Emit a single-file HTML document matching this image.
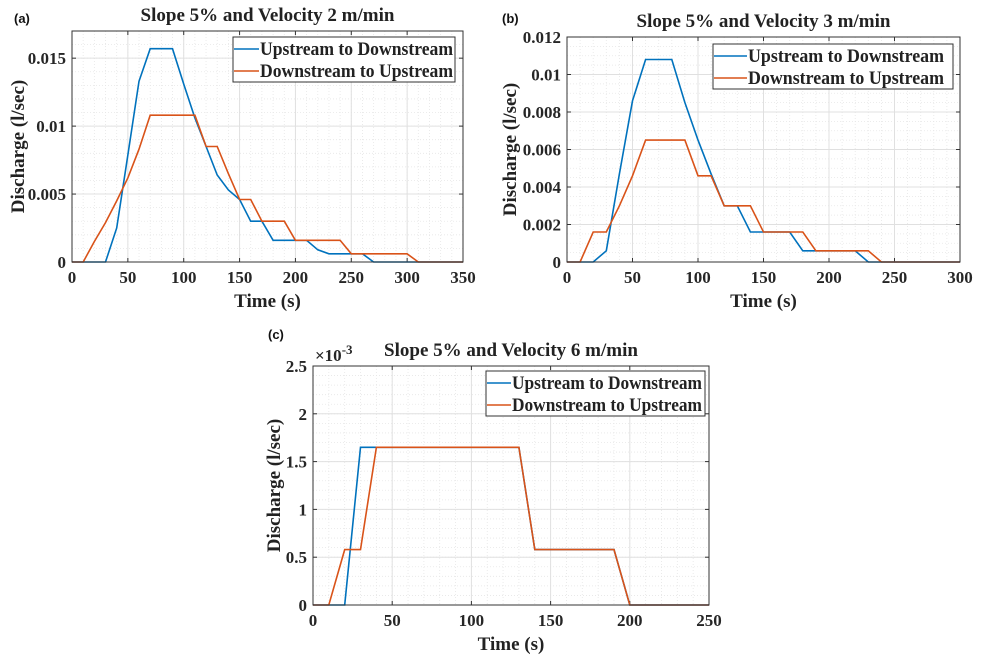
<!DOCTYPE html>
<html><head><meta charset="utf-8"><style>
html,body{margin:0;padding:0;background:#fff;}
svg{display:block;font-family:"Liberation Serif",serif;}
.t{font-weight:bold;font-size:19px;fill:#222;}
.lt{font-weight:bold;font-size:19px;fill:#222;}
.tk{font-weight:bold;font-size:17px;fill:#262626;}
.pl{font-family:"Liberation Sans",sans-serif;font-weight:bold;font-size:13px;fill:#111;}
</style></head><body>
<svg id="fig" width="988" height="664" viewBox="0 0 988 664" xmlns="http://www.w3.org/2000/svg"></svg>
<script>
// Panel (a): Slope 5%, velocity 2 m/min
const aTime = [0,10,20,30,40,50,60,70,80,90,100,110,120,130,140,150,160,170,180,190,200,210,220,230,240,250,260,270,280,290,300,310,320,330,340,350];
const aUp = [0,0,0,0,0.0025,0.0079,0.0133,0.0157,0.0157,0.0157,0.0131,0.0106,0.0085,0.0064,0.0053,0.0046,0.003,0.003,0.0016,0.0016,0.0016,0.0016,0.0009,0.0006,0.0006,0.0006,0.0006,0,0,0,0,0,0,0,0,0];
const aDown = [0,0,0.0015,0.0029,0.0045,0.0062,0.0083,0.0108,0.0108,0.0108,0.0108,0.0108,0.0085,0.0085,0.0065,0.0046,0.0046,0.003,0.003,0.003,0.0016,0.0016,0.0016,0.0016,0.0016,0.0006,0.0006,0.0006,0.0006,0.0006,0.0006,0,0,0,0,0];
const aXTicks = [0,50,100,150,200,250,300,350];
const aYTicks = [0,0.005,0.01,0.015];
const aYLabels = ["0","0.005","0.01","0.015"];
// Panel (b): velocity 3 m/min
const bTime = [0,10,20,30,40,50,60,70,80,90,100,110,120,130,140,150,160,170,180,190,200,210,220,230,240,250,260,270,280,290,300];
const bUp = [0,0,0,0.0006,0.0047,0.0086,0.0108,0.0108,0.0108,0.0085,0.0065,0.0047,0.003,0.003,0.0016,0.0016,0.0016,0.0016,0.0006,0.0006,0.0006,0.0006,0.0006,0,0,0,0,0,0,0,0];
const bDown = [0,0,0.0016,0.0016,0.003,0.0046,0.0065,0.0065,0.0065,0.0065,0.0046,0.0046,0.003,0.003,0.003,0.0016,0.0016,0.0016,0.0016,0.0006,0.0006,0.0006,0.0006,0.0006,0,0,0,0,0,0,0];
const bXTicks = [0,50,100,150,200,250,300];
const bYTicks = [0,0.002,0.004,0.006,0.008,0.01,0.012];
const bYLabels = ["0","0.002","0.004","0.006","0.008","0.01","0.012"];
// Panel (c): velocity 6 m/min (values in 1e-3 l/sec)
const cTime = [0,10,20,30,40,50,60,70,80,90,100,110,120,130,140,150,160,170,180,190,200,210,220,230,240,250];
const cUp = [0,0,0,1.65,1.65,1.65,1.65,1.65,1.65,1.65,1.65,1.65,1.65,1.65,0.58,0.58,0.58,0.58,0.58,0.58,0,0,0,0,0,0];
const cDown = [0,0,0.58,0.58,1.65,1.65,1.65,1.65,1.65,1.65,1.65,1.65,1.65,1.65,0.58,0.58,0.58,0.58,0.58,0.58,0,0,0,0,0,0];
const cXTicks = [0,50,100,150,200,250];
const cYTicks = [0,0.5,1,1.5,2,2.5];
const cYLabels = ["0","0.5","1","1.5","2","2.5"];

const NS="http://www.w3.org/2000/svg";
const fig=document.getElementById('fig');
function mk(tag,attrs,parent,text){const e=document.createElementNS(NS,tag);for(const k in attrs)e.setAttribute(k,attrs[k]);if(text!==undefined)e.textContent=text;(parent||fig).appendChild(e);return e;}

function panel(o){
  const g=mk('g',{});
  
  
  const sx=v=>o.L+(v-o.x0)/(o.x1-o.x0)*(o.R-o.L);
  const sy=v=>o.B-(v-o.y0)/(o.y1-o.y0)*(o.B-o.T);
  mk('rect',{x:o.L,y:o.T,width:o.R-o.L,height:o.B-o.T,fill:'#fff'},g);
  for(let v=o.x0;v<=o.x1+1e-9;v+=o.xm){mk('line',{x1:sx(v),x2:sx(v),y1:o.T,y2:o.B,stroke:'#e6e6e6','stroke-width':0.8,'stroke-dasharray':'1,2'},g);}
  for(let v=o.y0;v<=o.y1+1e-12;v+=o.ym){mk('line',{x1:o.L,x2:o.R,y1:sy(v),y2:sy(v),stroke:'#e6e6e6','stroke-width':0.8,'stroke-dasharray':'1,2'},g);}
  o.xt.forEach(v=>{
    mk('line',{x1:sx(v),x2:sx(v),y1:o.T,y2:o.B,stroke:'#e0e0e0','stroke-width':1},g);
    mk('line',{x1:sx(v),x2:sx(v),y1:o.B,y2:o.B-4,stroke:'#333'},g);
    mk('line',{x1:sx(v),x2:sx(v),y1:o.T,y2:o.T+4,stroke:'#333'},g);
    const t=mk('text',{x:sx(v),y:o.B+21,'text-anchor':'middle',class:'tk'},g,String(v));
    
    
  });
  o.yt.forEach((v,i)=>{
    mk('line',{x1:o.L,x2:o.R,y1:sy(v),y2:sy(v),stroke:'#e0e0e0','stroke-width':1},g);
    mk('line',{x1:o.L,x2:o.L+4,y1:sy(v),y2:sy(v),stroke:'#333'},g);
    mk('line',{x1:o.R,x2:o.R-4,y1:sy(v),y2:sy(v),stroke:'#333'},g);
    const t=mk('text',{x:o.L-6,y:sy(v)+6,'text-anchor':'end',class:'tk'},g,o.yl[i]);
    
    
  });
  [[o.up,'#0072BD','series-upstream-to-downstream'],[o.down,'#D95319','series-downstream-to-upstream']].forEach(s=>{
    const pts=o.time.map((t,i)=>sx(t).toFixed(1)+','+sy(s[0][i]).toFixed(1)).join(' ');
    const p=mk('polyline',{points:pts,fill:'none',stroke:s[1],'stroke-width':1.6},g);
    
    
  });
  mk('rect',{x:o.L,y:o.T,width:o.R-o.L,height:o.B-o.T,fill:'none',stroke:'#333','stroke-width':1},g);
  const lg=mk('g',{},g);
  
  
  mk('rect',{x:o.lx,y:o.ly,width:o.lw,height:45,fill:'#fff',stroke:'#333','stroke-width':1},lg);
  [['Upstream to Downstream','#0072BD'],['Downstream to Upstream','#D95319']].forEach((e,i)=>{
    const yy=o.ly+12+i*22;
    const eg=mk('g',{},lg);
    
    
    mk('line',{x1:o.lx+1,x2:o.lx+o.ll,y1:yy,y2:yy,stroke:e[1],'stroke-width':1.6},eg);
    mk('text',{x:o.lx+o.ll+1,y:yy+6,class:'lt',textLength:o.tw,lengthAdjust:'spacingAndGlyphs'},eg,e[0]);
  });
  const ti=mk('text',{x:(o.L+o.R)/2,y:o.T-10,'text-anchor':'middle',class:'t'},g,o.title);
  
  
  const xl=mk('text',{x:(o.L+o.R)/2,y:o.B+45,'text-anchor':'middle',class:'t'},g,'Time (s)');
  
  
  const yc=(o.T+o.B)/2;
  const yl=mk('text',{x:o.ylx,y:yc,'text-anchor':'middle',class:'t',transform:'rotate(-90 '+o.ylx+' '+yc+')'},g,'Discharge (l/sec)');
  
  
  const pl=mk('text',{x:o.px,y:o.py,class:'pl'},g,'('+o.id+')');
  
  
  return g;
}
panel({id:'a',L:72,R:463,T:31,B:262,x0:0,x1:350,y0:0,y1:0.017,xm:10,ym:0.001,xt:aXTicks,yt:aYTicks,yl:aYLabels,time:aTime,up:aUp,down:aDown,title:'Slope 5% and Velocity 2 m/min',lx:233,ly:37,lw:222,ll:26,tw:193,ylx:24,px:14,py:23});
panel({id:'b',L:567,R:960,T:37,B:262,x0:0,x1:300,y0:0,y1:0.012,xm:10,ym:0.0005,xt:bXTicks,yt:bYTicks,yl:bYLabels,time:bTime,up:bUp,down:bDown,title:'Slope 5% and Velocity 3 m/min',lx:713,ly:44,lw:240,ll:34,tw:196,ylx:516,px:502,py:23});
panel({id:'c',L:313,R:709,T:366,B:605,x0:0,x1:250,y0:0,y1:2.5,xm:10,ym:0.1,xt:cXTicks,yt:cYTicks,yl:cYLabels,time:cTime,up:cUp,down:cDown,title:'Slope 5% and Velocity 6 m/min',lx:486,ly:371,lw:219,ll:25,tw:190,ylx:280,px:268,py:339});
const ex=mk('text',{x:315,y:361,class:'tk'},fig);


ex.innerHTML='×10<tspan dy="-7" font-size="13">-3</tspan>';
</script>
</body></html>
